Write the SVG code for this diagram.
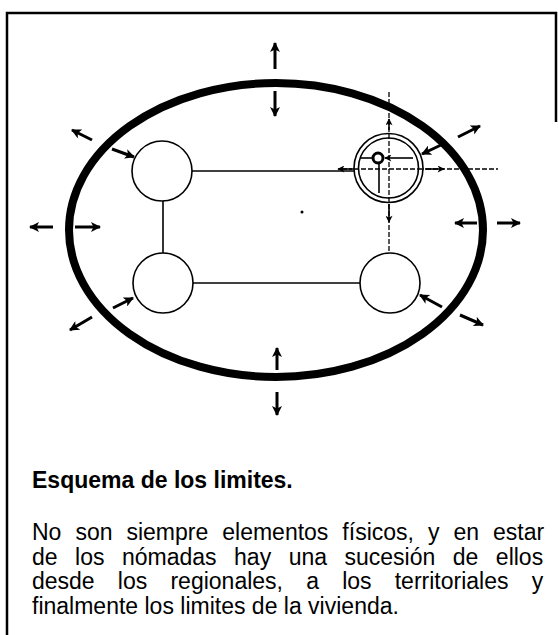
<svg xmlns="http://www.w3.org/2000/svg" width="558" height="635" viewBox="0 0 558 635">
<style>
.frame{fill:none;stroke:#000;stroke-width:2.5}
.bound{fill:none;stroke:#000;stroke-width:8}
.node{fill:#fff;stroke:#000;stroke-width:1.6}
.line{fill:none;stroke:#000;stroke-width:1.6}
.dash{fill:none;stroke:#000;stroke-width:1.3;stroke-dasharray:5 2}
.arr{fill:none;stroke:#000;stroke-width:3;marker-end:url(#ah)}
.sarr{fill:none;stroke:#000;stroke-width:1.6;marker-end:url(#sh)}
.title{font-family:"Liberation Sans",Arial,sans-serif;font-weight:bold;font-size:23px;fill:#000}
.body{font-family:"Liberation Sans",Arial,sans-serif;font-size:23px;fill:#000}
</style>
<defs>
<marker id="ah" viewBox="0 0 10 10" refX="9" refY="5" markerWidth="11" markerHeight="10" markerUnits="userSpaceOnUse" orient="auto"><path d="M0,0 L10,5 L0,10 L2.5,5 Z" fill="#000"/></marker>
<marker id="sh" viewBox="0 0 10 10" refX="9" refY="5" markerWidth="8" markerHeight="7" markerUnits="userSpaceOnUse" orient="auto"><path d="M0,0 L10,5 L0,10 L2.5,5 Z" fill="#000"/></marker>
</defs>
<rect width="558" height="635" fill="#fff"/>
<g id="frame">
<path class="frame" d="M7,635 L7,13 L556,13 L556,122"/>
</g>
<g id="boundary">
<ellipse class="bound" cx="276" cy="230" rx="207" ry="147"/>
<circle cx="302" cy="212" r="1.5" fill="#000"/>
</g>
<g id="connectors">
<line class="line" x1="192" y1="171" x2="354" y2="171"/>
<line class="line" x1="163" y1="200" x2="163" y2="253"/>
<line class="line" x1="193" y1="283" x2="360" y2="283"/>
<line class="dash" x1="389" y1="92" x2="389" y2="252"/>
<line class="dash" x1="342" y1="169" x2="498" y2="169"/>
</g>
<g id="node-ul"><circle class="node" cx="162" cy="171" r="30"/></g>
<g id="node-ll"><circle class="node" cx="163" cy="283" r="30"/></g>
<g id="node-lr"><circle class="node" cx="390" cy="283" r="30"/></g>
<g id="node-ur">
<circle class="node" cx="388.5" cy="168" r="34.5"/>
<circle class="node" cx="388.5" cy="168" r="30" fill="none"/>
<line class="dash" x1="389" y1="134" x2="389" y2="202"/>
<line class="dash" x1="354" y1="169" x2="423" y2="169"/>
<line class="line" x1="360" y1="158" x2="373" y2="158"/>
<line class="sarr" x1="413" y1="158" x2="385" y2="158"/>
<line class="line" x1="379" y1="163" x2="379" y2="193"/>
<circle cx="378" cy="158" r="5" fill="#fff" stroke="#000" stroke-width="3"/>
</g>
<g id="arrows">
<line class="sarr" x1="352" y1="169" x2="338" y2="169"/>
<line class="sarr" x1="425" y1="169" x2="444" y2="169"/>
<line class="sarr" x1="389" y1="130" x2="389" y2="119"/>
<line class="sarr" x1="389" y1="204" x2="389" y2="222"/>
<line class="arr" x1="441" y1="145" x2="422" y2="154"/>
<line class="arr" x1="275" y1="69" x2="275" y2="43"/>
<line class="arr" x1="275" y1="91" x2="275" y2="116"/>
<line class="arr" x1="277" y1="370" x2="277" y2="348"/>
<line class="arr" x1="277" y1="392" x2="277" y2="415"/>
<line class="arr" x1="92" y1="140" x2="72" y2="130"/>
<line class="arr" x1="112" y1="149" x2="134" y2="157"/>
<line class="arr" x1="53" y1="227" x2="30" y2="227"/>
<line class="arr" x1="75" y1="227" x2="100" y2="227"/>
<line class="arr" x1="113" y1="308" x2="133" y2="298"/>
<line class="arr" x1="92" y1="317" x2="70" y2="330"/>
<line class="arr" x1="477" y1="223" x2="455" y2="223"/>
<line class="arr" x1="497" y1="223" x2="520" y2="223"/>
<line class="arr" x1="458" y1="137" x2="480" y2="126"/>
<line class="arr" x1="442" y1="307" x2="420" y2="295"/>
<line class="arr" x1="460" y1="315" x2="483" y2="325"/>
</g>
<g id="caption">
<text class="title" x="32" y="488">Esquema de los limites.</text>
<text class="body" x="32" y="540" word-spacing="7.6">No son siempre elementos físicos, y en estar</text>
<text class="body" x="32" y="565" word-spacing="11.1">de los nómadas hay una sucesión de ellos</text>
<text class="body" x="32" y="589" word-spacing="16.8">desde los regionales, a los territoriales y</text>
<text class="body" x="32" y="614">finalmente los limites de la vivienda.</text>
</g>
</svg>
